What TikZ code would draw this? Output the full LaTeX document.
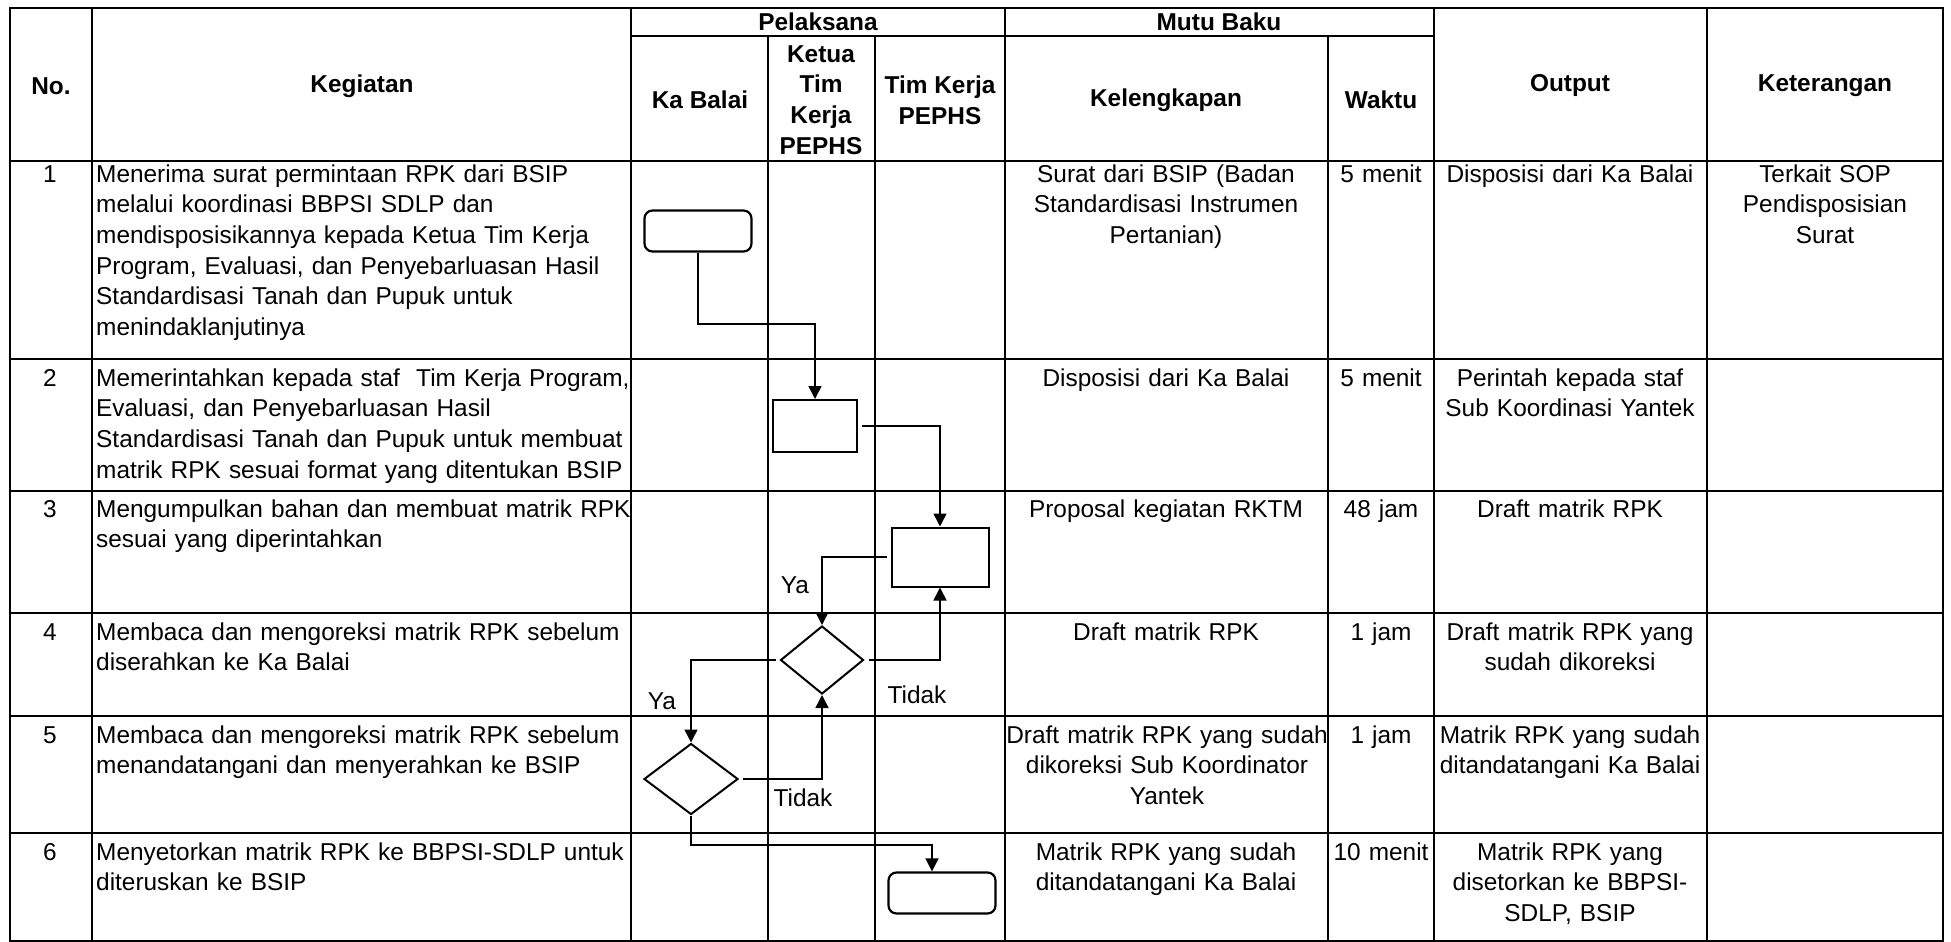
\documentclass[tikz,border=0pt]{standalone}
\usepackage{fontspec}
\setmainfont{Liberation Sans}
\usetikzlibrary{arrows.meta,shapes.geometric}
\newcommand\sizeset{\fontsize{24.4}{30.7}\selectfont}
\tikzset{
    every node/.style={font=\sizeset},
    tablerule/.style={line width=2.2pt,line cap=rect},
    head/.style={font=\sizeset\bfseries,align=center,inner sep=0pt},
    numcell/.style={anchor=base,inner sep=0pt},
    kegcell/.style={anchor=base west,inner sep=0pt,text width=580pt,align=left},
    midcell/.style={anchor=base,inner sep=0pt,text width=#1,align=center},
    terminal/.style={draw,line width=2.2pt,rounded corners=8pt,inner sep=0pt},
    process/.style={draw,line width=2pt,inner sep=0pt},
    decision/.style={diamond,draw,line width=2pt,inner sep=0pt},
    flow/.style={line width=1.6pt,-{Triangle[length=13pt,width=13pt]}},
    sideflow/.style={flow,shorten <=4pt},
    flowlabel/.style={inner sep=0pt}
}

\begin{document}
\begin{tikzpicture}[x=1pt,y=-1pt]
    \useasboundingbox (0,0) rectangle (1951,942);

    %draws table rules:
    \foreach \y in {8,161,359,491,613,716,833,941}
        \draw[tablerule] (10,\y) -- (1943,\y);
    \draw[tablerule] (631,36) -- (1434,36);
    \foreach \x in {10,92,631,1005,1434,1707,1943}
        \draw[tablerule] (\x,8) -- (\x,941);
    \foreach \x in {768,875,1328}
        \draw[tablerule] (\x,36) -- (\x,941);

    %draws header:
    \node[head] (hNo)   at (51,86)   {No.};
    \node[head] (hKeg)  at (362,86)  {Kegiatan};
    \node[head] (hPel)  at (818,22)  {Pelaksana};
    \node[head] (hKab)  at (700,100) {Ka Balai};
    \node[head] (hKet)  at (821,100) {Ketua\\Tim\\Kerja\\PEPHS};
    \node[head] (hTim)  at (940,100) {Tim Kerja\\PEPHS};
    \node[head] (hMutu) at (1219,22) {Mutu Baku};
    \node[head] (hKel)  at (1166,100) {Kelengkapan};
    \node[head] (hWak)  at (1381,100) {Waktu};
    \node[head] (hOut)  at (1570,86) {Output};
    \node[head] (hKtr)  at (1825,86) {Keterangan};

    %draws row 1:
    \node[numcell] (no1) at (50,182) {1};
    \node[kegcell] (keg1) at (96,182) {Menerima surat permintaan RPK dari BSIP\\melalui koordinasi BBPSI SDLP dan\\mendisposisikannya kepada Ketua Tim Kerja\\Program, Evaluasi, dan Penyebarluasan Hasil\\Standardisasi Tanah dan Pupuk untuk\\menindaklanjutinya};
    \node[midcell=400pt] (kel1) at (1166,182) {Surat dari BSIP (Badan\\Standardisasi Instrumen\\Pertanian)};
    \node[midcell=200pt] (wak1) at (1381,182) {5 menit};
    \node[midcell=400pt] (out1) at (1570,182) {Disposisi dari Ka Balai};
    \node[midcell=300pt] (ket1) at (1825,182) {Terkait SOP\\Pendisposisian\\Surat};

    %draws row 2:
    \node[numcell] (no2) at (50,386) {2};
    \node[kegcell] (keg2) at (96,386) {Memerintahkan kepada staf~ Tim Kerja Program,\\Evaluasi, dan Penyebarluasan Hasil\\Standardisasi Tanah dan Pupuk untuk membuat\\matrik RPK sesuai format yang ditentukan BSIP};
    \node[midcell=400pt] (kel2) at (1166,386) {Disposisi dari Ka Balai};
    \node[midcell=200pt] (wak2) at (1381,386) {5 menit};
    \node[midcell=400pt] (out2) at (1570,386) {Perintah kepada staf\\Sub Koordinasi Yantek};

    %draws row 3:
    \node[numcell] (no3) at (50,517) {3};
    \node[kegcell] (keg3) at (96,517) {Mengumpulkan bahan dan membuat matrik RPK\\sesuai yang diperintahkan};
    \node[midcell=400pt] (kel3) at (1166,517) {Proposal kegiatan RKTM};
    \node[midcell=200pt] (wak3) at (1381,517) {48 jam};
    \node[midcell=400pt] (out3) at (1570,517) {Draft matrik RPK};

    %draws row 4:
    \node[numcell] (no4) at (50,640) {4};
    \node[kegcell] (keg4) at (96,640) {Membaca dan mengoreksi matrik RPK sebelum\\diserahkan ke Ka Balai};
    \node[midcell=400pt] (kel4) at (1166,640) {Draft matrik RPK};
    \node[midcell=200pt] (wak4) at (1381,640) {1 jam};
    \node[midcell=400pt] (out4) at (1570,640) {Draft matrik RPK yang\\sudah dikoreksi};

    %draws row 5:
    \node[numcell] (no5) at (50,743) {5};
    \node[kegcell] (keg5) at (96,743) {Membaca dan mengoreksi matrik RPK sebelum\\menandatangani dan menyerahkan ke BSIP};
    \node[midcell=400pt] (kel5) at (1167,743) {Draft matrik RPK yang sudah\\dikoreksi Sub Koordinator\\Yantek};
    \node[midcell=200pt] (wak5) at (1381,743) {1 jam};
    \node[midcell=400pt] (out5) at (1570,743) {Matrik RPK yang sudah\\ditandatangani Ka Balai};

    %draws row 6:
    \node[numcell] (no6) at (50,860) {6};
    \node[kegcell] (keg6) at (96,860) {Menyetorkan matrik RPK ke BBPSI-SDLP untuk\\diteruskan ke BSIP};
    \node[midcell=400pt] (kel6) at (1166,860) {Matrik RPK yang sudah\\ditandatangani Ka Balai};
    \node[midcell=200pt] (wak6) at (1381,860) {10 menit};
    \node[midcell=400pt] (out6) at (1570,860) {Matrik RPK yang\\disetorkan ke BBPSI-\\SDLP, BSIP};

    %draws flow shapes:
    \node[terminal,minimum width=107pt,minimum height=41pt] (kaStart) at (698,231) {};
    \node[process,minimum width=84pt,minimum height=52pt] (ketOrder) at (815,426) {};
    \node[process,minimum width=97pt,minimum height=59pt] (timDraft) at (940,557) {};
    \node[decision,minimum width=83pt,minimum height=68pt] (ketCheck) at (822,660) {};
    \node[decision,minimum width=94pt,minimum height=71pt] (kaCheck) at (691,779) {};
    \node[terminal,minimum width=107pt,minimum height=41pt] (timEnd) at (942,893) {};

    %draws flow lines:
    \coordinate (bendStart) at (750,324);
    \coordinate (bendEnd) at (800,845);
    \draw[flow] (kaStart.south) |- (bendStart) -| (ketOrder.north);
    \draw[sideflow] (ketOrder.east) -| (timDraft.north);
    \draw[sideflow] (timDraft.west) -| (ketCheck.north);
    \draw[sideflow] (ketCheck.east) -| (timDraft.south);
    \draw[sideflow] (ketCheck.west) -| (kaCheck.north);
    \draw[sideflow] (kaCheck.east) -| (ketCheck.south);
    \draw[flow] (kaCheck.south) |- (bendEnd) -| ([xshift=-10pt]timEnd.north);

    %draws flow labels:
    \node[flowlabel] (yaKet)    at (795,585) {Ya};
    \node[flowlabel] (tidakKet) at (917,695) {Tidak};
    \node[flowlabel] (yaKa)     at (662,701) {Ya};
    \node[flowlabel] (tidakKa)  at (803,798) {Tidak};
\end{tikzpicture}
\end{document}
